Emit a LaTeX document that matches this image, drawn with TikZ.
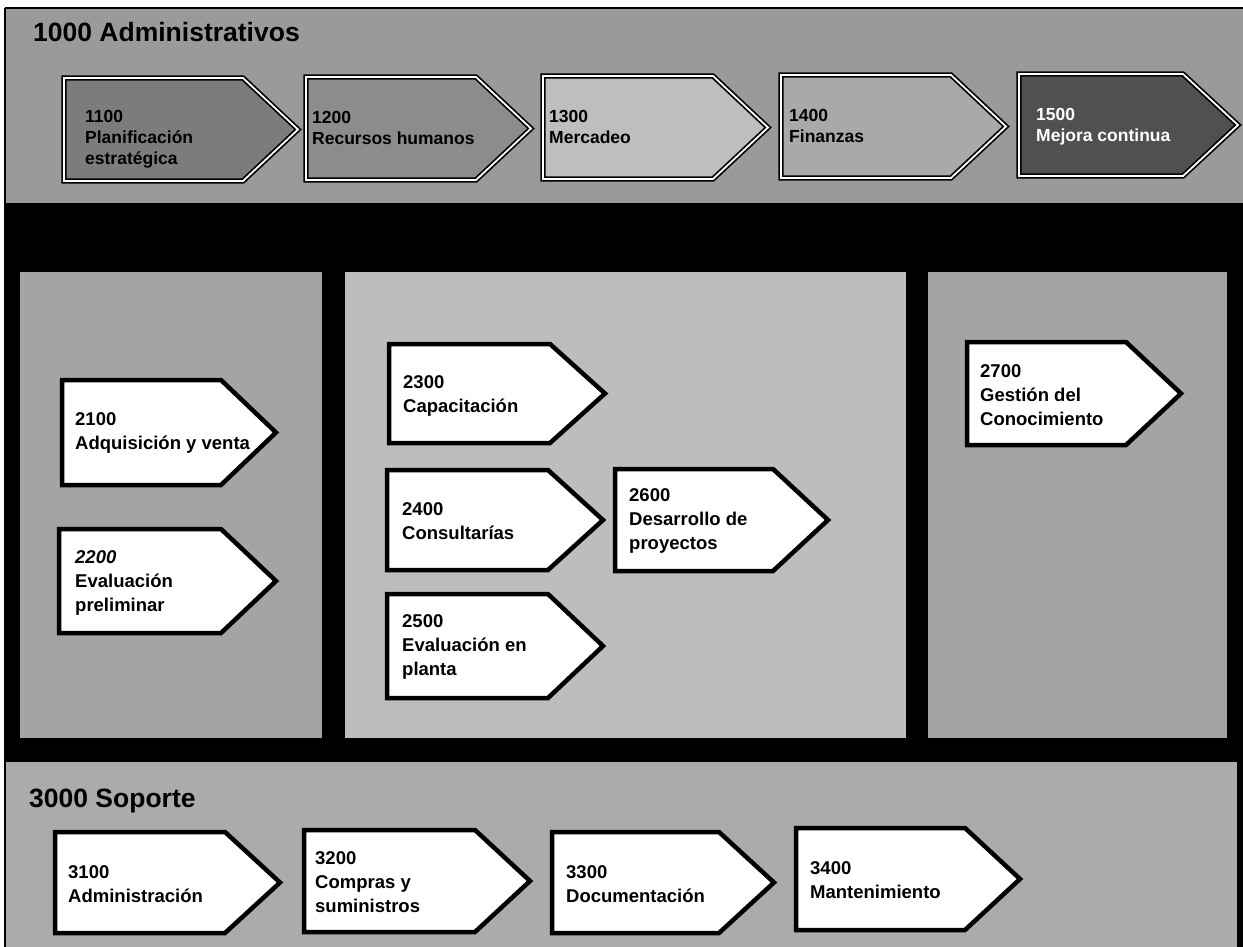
\documentclass[tikz,border=0pt]{standalone}
\usepackage{fontspec}
\setmainfont{Liberation Sans}
\definecolor{bandtop}{HTML}{9A9A9A}
\definecolor{bandbot}{HTML}{ABABAB}
\definecolor{panelA}{HTML}{A4A4A4}
\definecolor{panelB}{HTML}{BDBDBD}
\definecolor{cA}{HTML}{7C7C7C}
\definecolor{cB}{HTML}{8C8C8C}
\definecolor{cC}{HTML}{BEBEBE}
\definecolor{cD}{HTML}{A9A9A9}
\definecolor{cE}{HTML}{505050}
\newcommand\chev[5]{\draw[#1] (#2,#3) -- ({#4-55},#3) -- (#4,{(#3+#5)/2}) -- ({#4-55},#5) -- (#2,#5) -- cycle;}
\tikzset{
  wbox/.style={draw=black, line width=4.5pt, fill=white, line join=miter},
  topchev/.style={draw=black, line width=1.7pt, double=white, double distance=1.8pt, line join=miter},
  lbl/.style={font=\bfseries\fontsize{18.5}{24}\selectfont, align=left, anchor=west, inner sep=0pt},
  toplbl/.style={font=\bfseries\fontsize{17.5}{21}\selectfont, align=left, anchor=north west, inner sep=0pt},
  ttl/.style={font=\bfseries\fontsize{26.5}{30}\selectfont, anchor=base west, inner sep=0pt},
}
\begin{document}
\begin{tikzpicture}[x=1pt,y=-1pt]
\useasboundingbox (0,0) rectangle (1243,947);
\fill[white] (0,0) rectangle (1243,947);
% bands
\fill[bandtop] (5,8) rectangle (1243,203);
\fill[black] (5,203) rectangle (1243,762);
\fill[panelA] (20,272) rectangle (322,738);
\fill[panelB] (345,272) rectangle (906,738);
\fill[panelA] (928,272) rectangle (1227,738);
\fill[bandbot] (5,762) rectangle (1237,947);
\fill[black] (1237,762) rectangle (1243,947);
\draw[line width=1.5pt] (5,8) -- (1243,8);
\draw[line width=2pt] (5,8) -- (5,947);
% titles
\node[ttl] (t1000) at (33,42) {1000 Administrativos};
\node[ttl] (t3000) at (29,807) {3000 Soporte};
% top row
\chev{topchev, fill=cA}{64}{78}{298}{181}
\chev{topchev, fill=cB}{306}{77}{531}{180}
\chev{topchev, fill=cC}{543}{76}{768}{179}
\chev{topchev, fill=cD}{781}{75}{1006}{178}
\chev{topchev, fill=cE}{1019}{74}{1238}{176}
\node[toplbl] (n1100) at (85,110) {1100\\Planificación\\estratégica};
\node[toplbl] (n1200) at (312,111) {1200\\Recursos humanos};
\node[toplbl] (n1300) at (549,110) {1300\\Mercadeo};
\node[toplbl] (n1400) at (789,109) {1400\\Finanzas};
\node[toplbl, text=white] (n1500) at (1036,108) {1500\\Mejora continua};
% panel 1
\chev{wbox}{62}{380}{276}{485}
\chev{wbox}{59}{529}{276}{633}
\node[lbl] (n2100) at (75,433) {2100\\Adquisición y venta};
\node[lbl] (n2200) at (75,583) {\itshape 2200\\Evaluación\\preliminar};
% panel 2
\chev{wbox}{389}{344}{605}{443}
\chev{wbox}{387}{470}{603}{570}
\chev{wbox}{387}{594}{603}{698}
\chev{wbox}{615}{469}{828}{571}
\node[lbl] (n2300) at (403,396) {2300\\Capacitación};
\node[lbl] (n2400) at (402,521) {2400\\Consultarías};
\node[lbl] (n2500) at (402,647) {2500\\Evaluación en\\planta};
\node[lbl] (n2600) at (629,521) {2600\\Desarrollo de\\proyectos};
% panel 3
\chev{wbox}{967}{342}{1181}{445}
\node[lbl] (n2700) at (980,395) {2700\\Gestión del\\Conocimiento};
% bottom row
\chev{wbox}{55}{832}{280}{933}
\chev{wbox}{304}{830}{530}{932}
\chev{wbox}{552}{832}{774}{933}
\chev{wbox}{796}{828}{1020}{930}
\node[lbl] (n3100) at (68,884) {3100\\Administración};
\node[lbl] (n3200) at (315,882) {3200\\Compras y\\suministros};
\node[lbl] (n3300) at (566,884) {3300\\Documentación};
\node[lbl] (n3400) at (810,880) {3400\\Mantenimiento};
\end{tikzpicture}
\end{document}
